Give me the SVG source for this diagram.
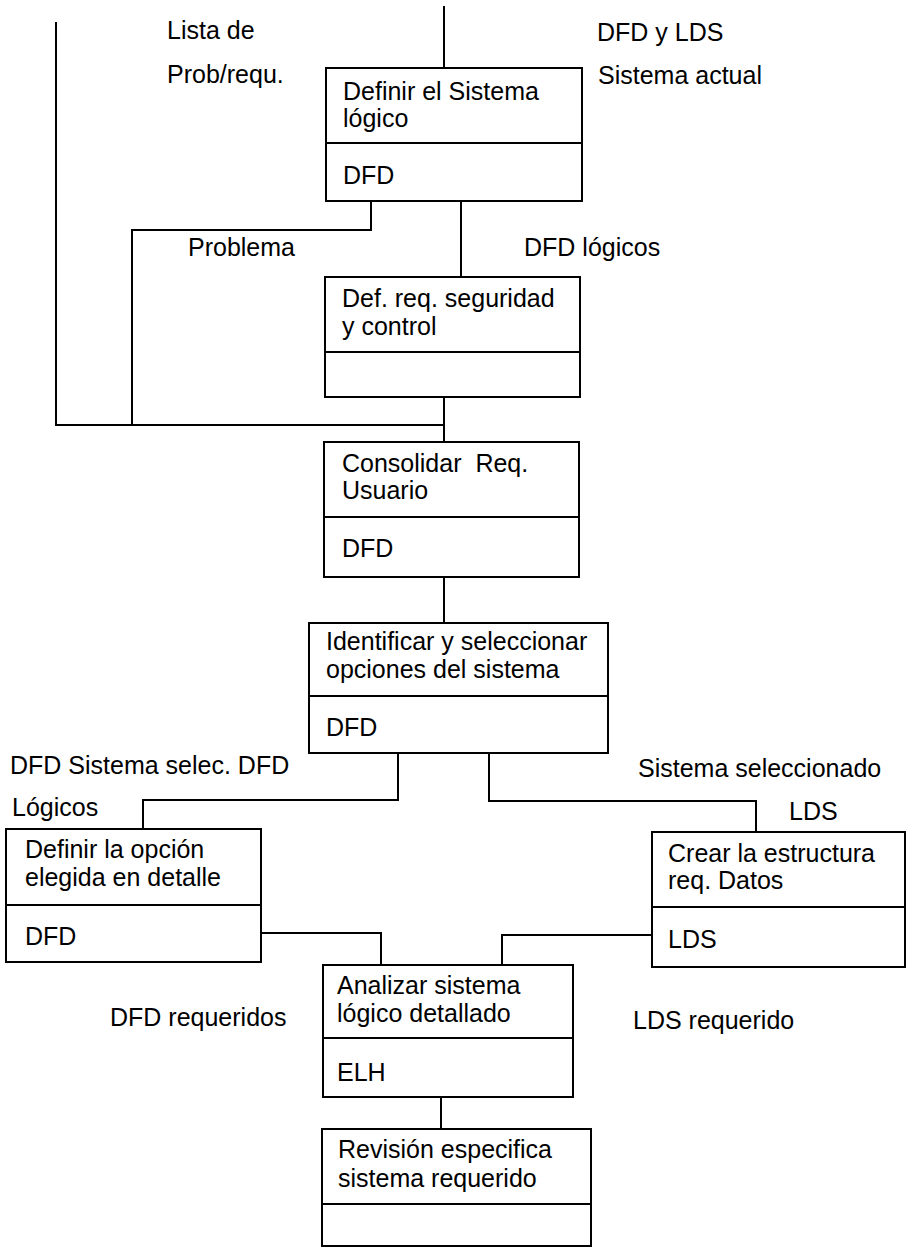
<svg xmlns="http://www.w3.org/2000/svg" width="907" height="1249" viewBox="0 0 907 1249">
<style>
.box{fill:#fff;stroke:#000;stroke-width:2}
.div{stroke:#000;stroke-width:2}
.con{fill:none;stroke:#000;stroke-width:2}
text{font-family:"Liberation Sans",Arial,Helvetica,sans-serif;font-size:25px;fill:#000;white-space:pre}
</style>
<rect x="0" y="0" width="907" height="1249" fill="#fff"/>
<g id="connectors">
<polyline class="con" points="56,22 56,425 444,425"/>
<polyline class="con" points="444,6 444,68"/>
<polyline class="con" points="371,201 371,230 132,230 132,425"/>
<polyline class="con" points="461,201 461,277"/>
<polyline class="con" points="444,397 444,442"/>
<polyline class="con" points="444,577 444,623"/>
<polyline class="con" points="398,753 398,800 143,800 143,829"/>
<polyline class="con" points="489,753 489,801 756,801 756,832"/>
<polyline class="con" points="261,933 381,933 381,965"/>
<polyline class="con" points="652,935 502,935 502,965"/>
<polyline class="con" points="441,1097 441,1129"/>
</g>
<g id="labels">
<text x="167" y="39">Lista de</text>
<text x="167" y="83">Prob/requ.</text>
<text x="597" y="41">DFD y LDS</text>
<text x="598" y="84">Sistema actual</text>
<text x="188" y="256">Problema</text>
<text x="524" y="256">DFD lógicos</text>
<text x="10" y="774">DFD Sistema selec. DFD</text>
<text x="12" y="816">Lógicos</text>
<text x="638" y="777">Sistema seleccionado</text>
<text x="789" y="820">LDS</text>
<text x="110" y="1026">DFD requeridos</text>
<text x="633" y="1029">LDS requerido</text>
</g>
<g id="n1">
<rect class="box" x="326" y="68" width="256" height="133"/>
<line class="div" x1="326" y1="143" x2="582" y2="143"/>
<text x="343" y="100">Definir el Sistema</text>
<text x="343" y="127">lógico</text>
<text x="343" y="184">DFD</text>
</g>
<g id="n2">
<rect class="box" x="325" y="277" width="255" height="120"/>
<line class="div" x1="325" y1="352" x2="580" y2="352"/>
<text x="342" y="307">Def. req. seguridad</text>
<text x="342" y="335">y control</text>
</g>
<g id="n3">
<rect class="box" x="324" y="442" width="255" height="135"/>
<line class="div" x1="324" y1="517" x2="579" y2="517"/>
<text x="342" y="472">Consolidar  Req.</text>
<text x="342" y="499">Usuario</text>
<text x="342" y="557">DFD</text>
</g>
<g id="n4">
<rect class="box" x="309" y="623" width="299" height="130"/>
<line class="div" x1="309" y1="696" x2="608" y2="696"/>
<text x="326" y="650">Identificar y seleccionar</text>
<text x="326" y="678">opciones del sistema</text>
<text x="326" y="736">DFD</text>
</g>
<g id="n5">
<rect class="box" x="6" y="829" width="255" height="133"/>
<line class="div" x1="6" y1="905" x2="261" y2="905"/>
<text x="25" y="858">Definir la opción</text>
<text x="25" y="886">elegida en detalle</text>
<text x="25" y="945">DFD</text>
</g>
<g id="n7">
<rect class="box" x="652" y="832" width="253" height="135"/>
<line class="div" x1="652" y1="907" x2="905" y2="907"/>
<text x="668" y="862">Crear la estructura</text>
<text x="668" y="889">req. Datos</text>
<text x="668" y="948">LDS</text>
</g>
<g id="n6">
<rect class="box" x="323" y="965" width="250" height="132"/>
<line class="div" x1="323" y1="1038" x2="573" y2="1038"/>
<text x="337" y="994">Analizar sistema</text>
<text x="337" y="1022">lógico detallado</text>
<text x="337" y="1081">ELH</text>
</g>
<g id="n8">
<rect class="box" x="322" y="1129" width="269" height="117"/>
<line class="div" x1="322" y1="1204" x2="591" y2="1204"/>
<text x="338" y="1158">Revisión especifica</text>
<text x="338" y="1187">sistema requerido</text>
</g>
</svg>
